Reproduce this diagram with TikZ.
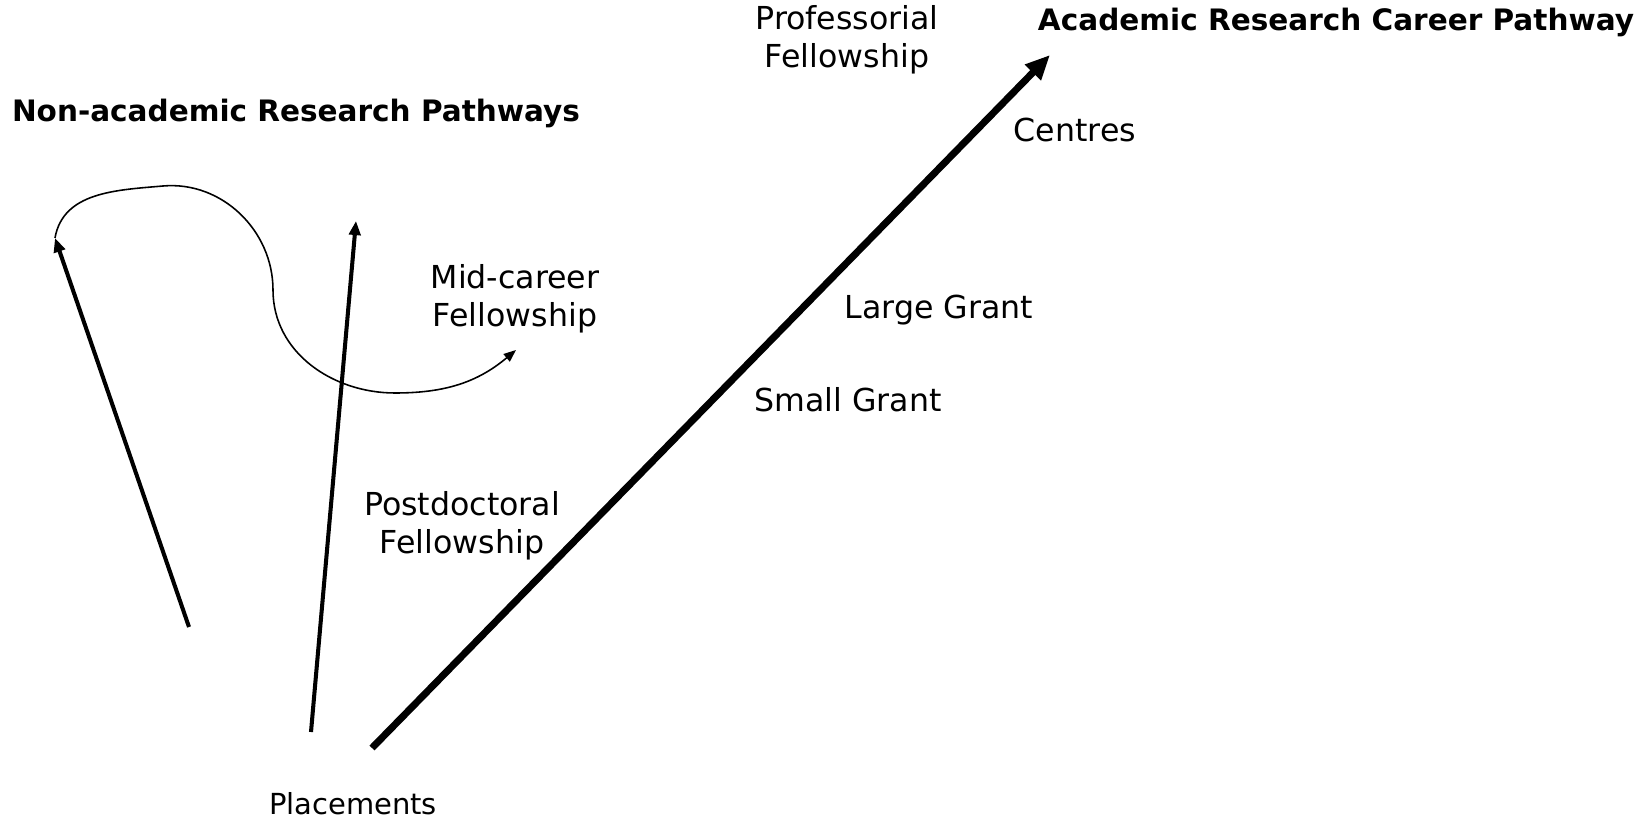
\documentclass[tikz,border=0pt]{standalone}
\usepackage{fontspec}
\setmainfont{DejaVu Sans}
\usetikzlibrary{arrows.meta}

\begin{document}
\begin{tikzpicture}[x=0.02cm,y=0.02cm,
    lbl/.style={font=\fontsize{18}{21.5}\selectfont,align=center,inner sep=0pt},
    ttl/.style={font=\fontsize{16.8}{21.5}\selectfont\bfseries,inner sep=0pt},
    path/.style={line width=2.3pt,-{Triangle[length=8pt,width=6.5pt]}},
    mainpath/.style={line width=4pt,-{Triangle[length=14pt,width=12pt]}},
    detour/.style={line width=0.9pt,-{Triangle[length=7pt,width=5.5pt]}}]
    \useasboundingbox (0,0) rectangle (1650,822);
    % titles
    \node[ttl] (nonacad) at (296,709) {Non-academic Research Pathways};
    \node[ttl] (acad) at (1336,800) {Academic Research Career Pathway};
    % stages along the academic pathway
    \node[lbl] (prof) at (847,782) {Professorial\\Fellowship};
    \node[lbl] (centres) at (1075,692) {Centres};
    \node[lbl] (large) at (939,512) {Large Grant};
    \node[lbl] (small) at (848,422) {Small Grant};
    \node[lbl] (postdoc) at (462,296) {Postdoctoral\\Fellowship};
    \node[lbl] (midcareer) at (515,523) {Mid-career\\Fellowship};
    \node[lbl,font=\fontsize{16.5}{20}\selectfont] (placements) at (353,18) {Placements};
    % arrow ends
    \coordinate (leftfoot) at (189,195);
    \coordinate (lefttip) at (55,584);
    \coordinate (midfoot) at (311,90);
    \coordinate (midtip) at (356,601);
    \coordinate (bigfoot) at (372,74);
    \coordinate (bigtip) at (1050,767);
    \coordinate (looptop) at (163,636);
    \coordinate (loopmid) at (273,532);
    \coordinate (loopbot) at (395,429);
    \coordinate (loopend) at (516,472);
    \draw[path] (leftfoot) -- (lefttip);
    \draw[path] (midfoot) -- (midtip);
    \draw[mainpath] (bigfoot) -- (bigtip);
    \draw[detour] (lefttip) to[out=80,in=185] (looptop) to[out=5,in=90] (loopmid)
        to[out=-90,in=180] (loopbot) to[out=0,in=-140] (loopend);
\end{tikzpicture}
\end{document}
